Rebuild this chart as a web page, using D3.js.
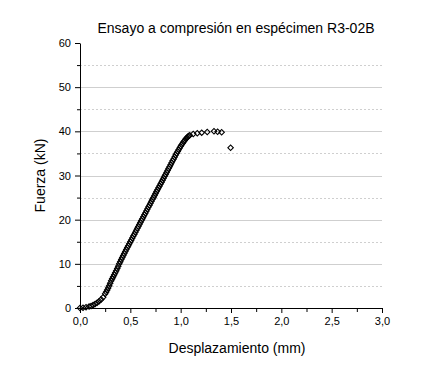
<!DOCTYPE html>
<html>
<head>
<meta charset="utf-8">
<script src="https://cdn.jsdelivr.net/npm/d3@7"></script>
<style>
  html, body { margin: 0; padding: 0; background: #fff; }
  svg { display: block; font-family: "Liberation Sans", Arial, sans-serif; }
  .axis path, .axis line { stroke: #000; }
  .axis text { font-size: 11px; fill: #000; font-family: "Liberation Sans", Arial, sans-serif; }
  .grid-major { stroke: #cfcfcf; stroke-width: 1; }
  .grid-minor { stroke: #cfcfcf; stroke-width: 1; stroke-dasharray: 2 2; }
</style>
</head>
<body>
<div id="chart"></div>
<script>
const TITLE = "Ensayo a compresión en espécimen R3-02B";
const X_LABEL = "Desplazamiento (mm)";
const Y_LABEL = "Fuerza (kN)";

const X_TICKS = [0, 0.5, 1, 1.5, 2, 2.5, 3];
const Y_TICKS = [0, 10, 20, 30, 40, 50, 60];

// displacement (mm)
const desplazamiento = [
  0.00, 0.03, 0.06, 0.09, 0.11, 0.13, 0.15, 0.17, 0.19, 0.21, 0.23,
  0.25, 0.26, 0.27, 0.28, 0.29, 0.30, 0.31, 0.32, 0.33, 0.34, 0.35,
  0.36, 0.37, 0.38, 0.39, 0.40, 0.41, 0.42, 0.43, 0.44, 0.45, 0.46,
  0.47, 0.48, 0.49, 0.50, 0.51, 0.52, 0.53, 0.54, 0.55, 0.56, 0.57,
  0.58, 0.59, 0.60, 0.61, 0.62, 0.63, 0.64, 0.65, 0.66, 0.67, 0.68,
  0.69, 0.70, 0.71, 0.72, 0.73, 0.74, 0.75, 0.76, 0.77, 0.78, 0.79,
  0.80, 0.81, 0.82, 0.83, 0.84, 0.85, 0.86, 0.87, 0.88, 0.89, 0.90,
  0.91, 0.92, 0.93, 0.94, 0.95, 0.96, 0.97, 0.98, 0.99, 1.00, 1.01,
  1.02, 1.03, 1.04, 1.05, 1.06, 1.07, 1.08, 1.09,
  1.125, 1.165, 1.209, 1.264, 1.331, 1.367, 1.407, 1.496
];

// force (kN)
const fuerza = [
  0.00, 0.08, 0.18, 0.32, 0.45, 0.65, 0.90, 1.20, 1.55, 1.95, 2.45,
  3.20, 3.60, 4.05, 4.55, 5.05, 5.60, 6.15, 6.65, 7.10, 7.55, 8.00,
  8.45, 8.95, 9.45, 10.00, 10.50, 11.00, 11.45, 11.90, 12.35, 12.80, 13.25,
  13.70, 14.10, 14.55, 15.00, 15.40, 15.85, 16.30, 16.70, 17.15, 17.60, 18.05,
  18.45, 18.90, 19.35, 19.80, 20.20, 20.65, 21.10, 21.50, 21.95, 22.40, 22.85,
  23.25, 23.70, 24.15, 24.60, 25.00, 25.45, 25.90, 26.35, 26.75, 27.20, 27.65,
  28.10, 28.50, 28.95, 29.40, 29.85, 30.25, 30.70, 31.15, 31.60, 32.00, 32.45,
  32.90, 33.35, 33.75, 34.20, 34.65, 35.05, 35.45, 35.85, 36.25, 36.60, 36.95,
  37.30, 37.65, 37.95, 38.25, 38.50, 38.75, 38.95, 39.10,
  39.40, 39.55, 39.70, 39.85, 40.00, 39.90, 39.78, 36.30
];

const width = 444;
const height = 370;
const margin = { top: 43, right: 62, bottom: 62, left: 80 };
const innerWidth = width - margin.left - margin.right;
const innerHeight = height - margin.top - margin.bottom;

const svg = d3.select("#chart")
  .append("svg")
  .attr("width", width)
  .attr("height", height);

const g = svg.append("g")
  .attr("transform", `translate(${margin.left},${margin.top})`);

const x = d3.scaleLinear().domain([0, 3]).range([0, innerWidth]);
const y = d3.scaleLinear().domain([0, 60]).range([innerHeight, 0]);

const fmt = (d) => d3.format(".1f")(d).replace(".", ",");

// grid: solid at major ticks, dotted halfway between
const majorGrid = Y_TICKS.filter((d) => d > 0 && d < 60);
const minorGrid = d3.range(5, 60, 10);

g.append("g")
  .selectAll("line")
  .data(minorGrid)
  .join("line")
  .attr("class", "grid-minor")
  .attr("x1", 0)
  .attr("x2", innerWidth)
  .attr("y1", (d) => Math.round(y(d)) + 0.5)
  .attr("y2", (d) => Math.round(y(d)) + 0.5);

g.append("g")
  .selectAll("line")
  .data(majorGrid)
  .join("line")
  .attr("class", "grid-major")
  .attr("x1", 0)
  .attr("x2", innerWidth)
  .attr("y1", (d) => Math.round(y(d)) + 0.5)
  .attr("y2", (d) => Math.round(y(d)) + 0.5);

// minor ticks (no labels)
g.append("g")
  .attr("class", "axis")
  .attr("transform", `translate(0,${innerHeight})`)
  .call(d3.axisBottom(x).tickValues(d3.range(0.25, 3, 0.5)).tickSize(4))
  .call((s) => s.select(".domain").remove())
  .call((s) => s.selectAll("text").remove());

g.append("g")
  .attr("class", "axis")
  .call(d3.axisLeft(y).tickValues(minorGrid).tickSize(3))
  .call((s) => s.select(".domain").remove())
  .call((s) => s.selectAll("text").remove());

g.append("g")
  .attr("class", "axis")
  .attr("transform", `translate(0,${innerHeight})`)
  .call(d3.axisBottom(x).tickValues(X_TICKS).tickSize(5).tickSizeOuter(0).tickPadding(4).tickFormat(fmt));

g.append("g")
  .attr("class", "axis")
  .call(d3.axisLeft(y).tickValues(Y_TICKS).tickSize(5).tickSizeOuter(0).tickPadding(4));

// points
const symbol = d3.symbol().type(d3.symbolSquare).size(15);
const pts = d3.zip(desplazamiento, fuerza);

g.append("g")
  .selectAll("path")
  .data(pts)
  .join("path")
  .attr("d", symbol)
  .attr("transform", (d) => `translate(${x(d[0])},${y(d[1])}) rotate(45)`)
  .attr("fill", "none")
  .attr("stroke", "#000")
  .attr("stroke-width", 1.1);

svg.append("text")
  .attr("x", 236)
  .attr("y", 33)
  .attr("text-anchor", "middle")
  .attr("font-size", 14)
  .text(TITLE);

svg.append("text")
  .attr("x", margin.left + innerWidth / 2 + 6)
  .attr("y", 353)
  .attr("text-anchor", "middle")
  .attr("font-size", 14)
  .text(X_LABEL);

svg.append("text")
  .attr("transform", `translate(45,${margin.top + innerHeight / 2}) rotate(-90)`)
  .attr("text-anchor", "middle")
  .attr("font-size", 14)
  .text(Y_LABEL);
</script>
</body>
</html>
